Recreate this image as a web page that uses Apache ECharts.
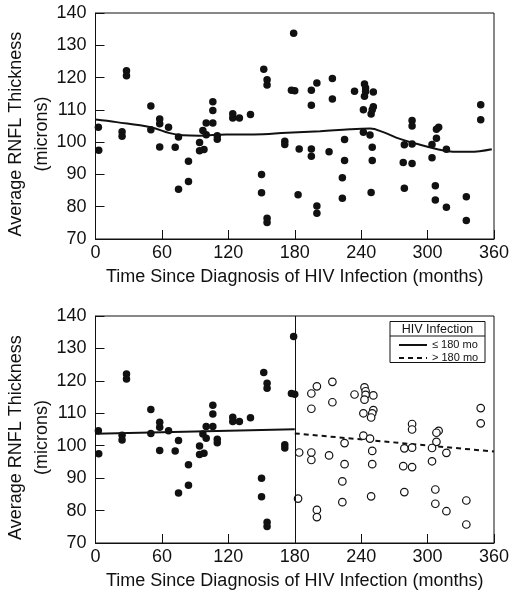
<!DOCTYPE html>
<html>
<head>
<meta charset="utf-8">
<script src="https://cdn.jsdelivr.net/npm/echarts@6/dist/echarts.min.js"></script>
<style>
html,body{margin:0;padding:0;background:#fff;}
#chart{width:517px;height:600px;}
</style>
</head>
<body>
<div id="chart"></div>
<script>
// ---- data ----
const months = [
  2.6, 2.9, 28, 28, 24, 24, 50, 50, 58, 58, 58, 66, 75, 72, 84, 84, 75, 94, 94, 98, 97, 100, 100, 106, 106, 106, 110, 110,
  124, 124, 130, 140, 150, 150, 152, 155, 155, 155, 155, 171, 171, 177, 180, 179,
  184, 183, 195, 200, 195, 195, 195, 200, 200, 211, 214, 214, 225, 225, 223, 223, 234,
  243, 244, 244, 243, 251, 242, 251, 250, 249, 242, 248, 250, 250, 249,
  286, 286, 279, 286, 278, 286, 279, 310, 308, 308, 304, 317, 304, 307, 307, 317, 335, 335, 348, 348
];
const rnfl = [
  104.6, 97.5, 122.1, 120.6, 103.2, 101.8, 111.2, 103.8, 107.2, 105.7, 98.5, 104.6, 101.6, 98.4, 94.1, 87.8, 85.4, 99.9, 97.3, 97.7, 103.6, 105.9, 102.3, 112.5, 109.8, 105.9, 102.0, 100.9,
  108.8, 107.5, 107.5, 108.6, 90.0, 84.3, 122.6, 119.3, 117.7, 76.4, 75.1, 100.3, 99.3, 116.1, 115.9, 133.7,
  97.9, 83.7, 116.1, 118.3, 111.4, 97.9, 95.6, 80.2, 78.0, 97.0, 119.7, 113.4, 100.8, 94.3, 89.0, 82.6, 115.8,
  118.0, 116.8, 115.7, 114.2, 115.5, 110.0, 111.0, 110.0, 108.7, 103.1, 102.2, 98.4, 94.3, 84.4,
  106.7, 105.0, 99.2, 99.4, 93.7, 93.4, 85.7, 104.6, 104.0, 101.2, 99.3, 97.8, 95.2, 86.5, 82.1, 79.8, 83.1, 75.7, 111.6, 106.9
];
// smoothed trend (top panel)
const smoothMonths = [0, 19, 50, 67, 79, 94, 118, 143, 173, 203, 230, 248, 260, 275, 290, 308, 323, 338, 358];
const smoothValues = [107.0, 106.2, 104.6, 102.8, 102.1, 102.0, 102.4, 102.4, 102.9, 103.4, 104.0, 104.2, 103.1, 101.0, 99.5, 97.9, 97.0, 97.0, 97.8];
// piecewise fits (bottom panel)
const earlyFitMonths = [0, 180];
const earlyFitValues = [103.7, 105.1];
const lateFitMonths = [180, 360];
const lateFitValues = [103.8, 98.2];
const splitMonth = 180;
const xTicks = [0, 60, 120, 180, 240, 300, 360];
const yTicks = [70, 80, 90, 100, 110, 120, 130, 140];
const seriesNames = ['\u2264 180 mo', '> 180 mo'];
const legendTitle = 'HIV Infection';
const xTitle = 'Time Since Diagnosis of HIV Infection (months)';
const yTitle = 'Average RNFL Thickness\n(microns)';

// ---- build ----
const allPts = months.map((m, i) => [m, rnfl[i]]);
const earlyPts = allPts.filter(p => p[0] <= splitMonth);
const latePts = allPts.filter(p => p[0] > splitMonth);
const zip = (a, b) => a.map((v, i) => [v, b[i]]);

const FONT = 'Liberation Sans, Arial, Helvetica, sans-serif';
const black = '#111';

function xAxis(gridIndex) {
  return {
    type: 'value', gridIndex, min: xTicks[0], max: xTicks[xTicks.length - 1], interval: 60,
    name: xTitle, nameLocation: 'middle', nameGap: 29, nameMoveOverlap: false,
    nameTextStyle: { fontFamily: FONT, fontSize: 18, color: black },
    axisLine: { show: true, lineStyle: { color: black, width: 1 } },
    axisTick: { show: true, inside: true, length: 9, lineStyle: { color: black } },
    axisLabel: { fontFamily: FONT, fontSize: 18, color: black, margin: 5 },
    splitLine: { show: false }
  };
}
function yAxis(gridIndex) {
  return {
    type: 'value', gridIndex, min: yTicks[0], max: yTicks[yTicks.length - 1], interval: 10,
    name: yTitle, nameLocation: 'middle', nameGap: 40, nameMoveOverlap: false,
    nameTextStyle: { fontFamily: FONT, fontSize: 18, color: black, lineHeight: 26, padding: [0, 16, 0, 0] },
    axisLine: { show: true, lineStyle: { color: black, width: 1 } },
    axisTick: { show: true, inside: true, length: 9, lineStyle: { color: black } },
    axisLabel: { fontFamily: FONT, fontSize: 18, color: black, margin: 9 },
    splitLine: { show: false }
  };
}

const chart = echarts.init(document.getElementById('chart'), null, { renderer: 'canvas' });
chart.setOption({
  animation: false,
  backgroundColor: '#fff',
  grid: [
    { left: 95.5, top: 13, width: 398.5, height: 226, show: true, borderColor: black, borderWidth: 1, backgroundColor: 'transparent', containLabel: false, outerBoundsMode: 'none' },
    { left: 95.5, top: 316, width: 398.5, height: 227, show: true, borderColor: black, borderWidth: 1, backgroundColor: 'transparent', containLabel: false, outerBoundsMode: 'none' }
  ],
  xAxis: [xAxis(0), xAxis(1)],
  yAxis: [yAxis(0), yAxis(1)],
  legend: {
    data: seriesNames,
    orient: 'vertical', left: 398, top: 339.5, padding: 0, itemWidth: 28, itemHeight: 8, itemGap: 2,
    textStyle: { fontFamily: FONT, fontSize: 11, color: black, lineHeight: 8 },
    itemStyle: { color: 'rgba(0,0,0,0)', borderColor: 'rgba(0,0,0,0)', borderWidth: 0 },
    selectedMode: false
  },
  graphic: [
    { type: 'rect', shape: { x: 390, y: 321.5, width: 95, height: 41 }, style: { fill: 'none', stroke: black, lineWidth: 1 }, z: 100 },
    { type: 'line', shape: { x1: 390, y1: 336, x2: 485, y2: 336 }, style: { stroke: black, lineWidth: 1 }, z: 100 },
    { type: 'text', x: 437.5, y: 323, style: { text: legendTitle, fontFamily: FONT, fontSize: 12.5, fill: black, align: 'center', verticalAlign: 'top' }, z: 100 }
  ],
  series: [
    { type: 'scatter', xAxisIndex: 0, yAxisIndex: 0, data: allPts, symbol: 'circle', symbolSize: 7.5, itemStyle: { color: black, opacity: 1 }, z: 3 },
    { type: 'line', xAxisIndex: 0, yAxisIndex: 0, data: zip(smoothMonths, smoothValues), smooth: 0.4, symbol: 'none', itemStyle: { color: black }, lineStyle: { color: black, width: 2 }, z: 2 },
    { type: 'scatter', xAxisIndex: 1, yAxisIndex: 1, data: earlyPts, symbol: 'circle', symbolSize: 7.5, itemStyle: { color: black, opacity: 1 }, z: 3,
      markLine: { silent: true, symbol: 'none', label: { show: false }, lineStyle: { color: black, width: 1, type: 'solid' }, data: [{ xAxis: splitMonth }] } },
    { type: 'scatter', xAxisIndex: 1, yAxisIndex: 1, data: latePts, symbol: 'circle', symbolSize: 7.5, itemStyle: { color: '#fff', borderColor: black, borderWidth: 1.2, opacity: 1 }, z: 3 },
    { name: seriesNames[0], type: 'line', xAxisIndex: 1, yAxisIndex: 1, data: zip(earlyFitMonths, earlyFitValues), symbol: 'none', itemStyle: { color: black }, lineStyle: { color: black, width: 2 }, z: 2 },
    { name: seriesNames[1], type: 'line', xAxisIndex: 1, yAxisIndex: 1, data: zip(lateFitMonths, lateFitValues), symbol: 'none', itemStyle: { color: black }, lineStyle: { color: black, width: 2, type: [5, 4] }, z: 2 }
  ]
});
</script>
</body>
</html>
